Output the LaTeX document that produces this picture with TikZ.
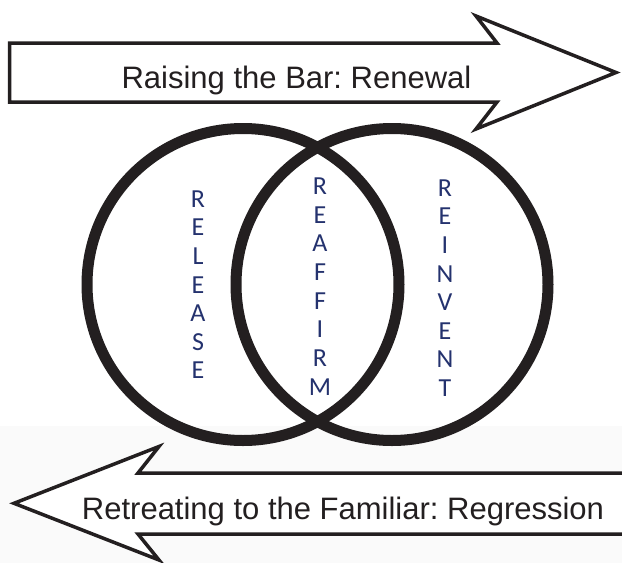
\documentclass[tikz,border=0pt]{standalone}
\usepackage{fontspec}
\setmainfont{Liberation Sans}
\newfontfamily\lettersfont{Carlito}
\definecolor{ink}{HTML}{231F20}
\definecolor{navy}{HTML}{24326E}
\definecolor{floor}{HTML}{FAFAFA}

\begin{document}
\frenchspacing
\begin{tikzpicture}[x=1pt,y=-1pt,
  arrowshape/.style={draw=ink, line width=3.5pt, fill=white, line join=miter, miter limit=12},
  ring/.style={draw=ink, line width=11pt, circle, inner sep=0pt, minimum size=312pt},
  banner/.style={font=\fontsize{31}{31}\selectfont, text=ink, anchor=base, inner sep=0pt},
  letter/.style={font=\lettersfont\fontsize{26}{26}\selectfont, text=navy, inner sep=0pt, anchor=center}]

\useasboundingbox (0,0) rectangle (622,563);
\clip (0,0) rectangle (622,563);
\fill[white] (0,0) rectangle (622,563);
\fill[floor] (0,426) rectangle (622,563);

% forward arrow (renewal)
\draw[arrowshape] (9.5,43) -- (497,43) -- (476,16) -- (616,72.5)
  -- (476,129) -- (497,102) -- (9.5,102) -- cycle;
\node[banner] (renewal) at (296.5,88) {Raising the Bar: Renewal};

% backward arrow (regression), shaft running off the right edge
\draw[arrowshape] (640,473) -- (138,473) -- (159,446.5) -- (14,503.3)
  -- (159,560) -- (138,534) -- (640,534);
\node[banner] (regression) at (343,519) {Retreating to the Familiar: Regression};

% the two overlapping rings
\node[ring] (leftring) at (243,284.5) {};
\node[ring] (rightring) at (392,284.5) {};

% vertical words
\foreach \ch [count=\i from 0] in {R,E,L,E,A,S,E}
  \node[letter] (release-\i) at (198,199+28.6*\i) {\ch};
\foreach \ch [count=\i from 0] in {R,E,A,F,F,I,R,M}
  \node[letter] (reaffirm-\i) at (320,186+28.7*\i) {\ch};
\foreach \ch [count=\i from 0] in {R,E,I,N,V,E,N,T}
  \node[letter] (reinvent-\i) at (445,188+28.6*\i) {\ch};
\end{tikzpicture}
\end{document}
